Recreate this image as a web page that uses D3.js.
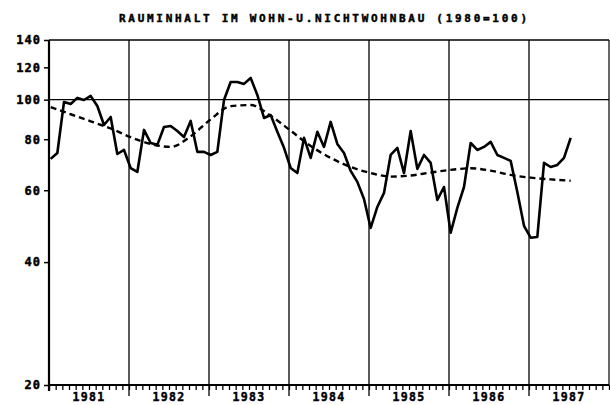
<!DOCTYPE html>
<html><head><meta charset="utf-8">
<script src="https://cdn.jsdelivr.net/npm/d3@7"></script>
<style>body{margin:0;background:#fff}svg{display:block}</style>
</head><body><svg id="c" width="610" height="405"></svg>
<script>
// ---- data ----
const title = "RAUMINHALT IM WOHN-U.NICHTWOHNBAU (1980=100)";
const years = [1981, 1982, 1983, 1984, 1985, 1986, 1987];
const yTicks = [20, 40, 60, 80, 100, 120, 140];
// monthly index, Jan 1981 = 0
const months = d3.range(0, 79);
const values = [
  71.6, 74.0, 98.7, 97.6, 101.0, 99.8, 102.1, 96.5, 86.7, 90.7, 73.6, 75.3,
  68.0, 66.5, 84.3, 78.3, 77.5, 85.7, 86.2, 83.8, 81.0, 88.7, 74.5, 74.5,
  73.2, 74.5, 99.8, 110.5, 110.5, 109.3, 113.0, 102.7, 90.2, 91.7, 83.4, 76.2,
  68.0, 66.1, 80.6, 72.0, 83.4, 76.6, 88.2, 77.9, 74.0, 66.9, 62.9, 57.1,
  48.5, 54.6, 59.1, 73.2, 76.2, 66.1, 83.8, 67.7, 73.2, 70.0, 56.8, 61.1,
  47.2, 54.3, 61.1, 78.3, 75.3, 76.6, 78.8, 73.2, 72.0, 70.8, 59.4, 49.1,
  45.9, 46.1, 70.0, 68.4, 69.2, 72.0, 80.6
];
const trendMonths = [0,3,6,9,12,15,18,21,24,27,30,33,36,39,42,45,48,51,54,57,60,63,66,69,72,75,78];
const trendValues = [95.9, 92.1, 88.5, 85.0, 80.9, 77.9, 76.6, 81.3, 89.5, 96.4, 97.0, 91.3, 83.9,
  77.0, 72.0, 68.4, 66.1, 64.8, 65.2, 66.3, 67.3, 67.9, 67.0, 65.4, 64.4, 63.8, 63.3];
const refLine = 100;

// ---- layout ----
const L = 49, R = 609, T = 40, B = 385;
const svg = d3.select("#c");
const font = "'DejaVu Sans Mono', monospace";

const x = d3.scaleLinear().domain([0, years.length * 12]).range([L, R]);
const y = d3.scaleLog().domain([20, 140]).range([B, T]);
const off = 0.25;

// title
svg.append("text").attr("x", 323).attr("y", 22).attr("text-anchor", "middle")
  .attr("font-family", font).attr("font-weight", "bold").attr("font-size", 11)
  .attr("stroke", "#000").attr("stroke-width", 0.45)
  .attr("textLength", 408).attr("lengthAdjust", "spacing")
  .text(title);

// frame top and right
svg.append("line").attr("x1", L).attr("x2", R).attr("y1", T).attr("y2", T)
  .attr("stroke", "#000").attr("stroke-width", 1.3);
svg.append("line").attr("x1", R).attr("x2", R).attr("y1", T).attr("y2", B)
  .attr("stroke", "#000").attr("stroke-width", 1.2);

// year boundary lines
svg.append("g").selectAll("line").data(d3.range(1, years.length)).join("line")
  .attr("x1", d => x(d * 12)).attr("x2", d => x(d * 12))
  .attr("y1", T).attr("y2", B + 11)
  .attr("stroke", "#000").attr("stroke-width", 1.3);

// reference line at 100
svg.append("line").attr("x1", L).attr("x2", R).attr("y1", y(refLine)).attr("y2", y(refLine))
  .attr("stroke", "#000").attr("stroke-width", 1.4);

// x axis with month ticks
const xAxis = d3.axisBottom(x).tickValues(d3.range(0, years.length * 12 + 1))
  .tickSize(5).tickFormat("");
const gx = svg.append("g").attr("transform", `translate(0,${B})`).call(xAxis);
gx.select(".domain").attr("stroke-width", 2).attr("d", `M${L},0H${R}`);
gx.selectAll(".tick line").attr("stroke-width", 1.3);

// year labels
svg.append("g").selectAll("text").data(years).join("text")
  .attr("x", (d, i) => x(i * 12 + 6)).attr("y", 401).attr("text-anchor", "middle")
  .attr("font-family", font).attr("font-weight", "bold").attr("font-size", 11.5)
  .attr("stroke", "#000").attr("stroke-width", 0.45)
  .attr("letter-spacing", 1.3)
  .text(d => d);

// y axis
const yAxis = d3.axisLeft(y).tickValues(yTicks).tickSize(5).tickPadding(3).tickFormat(d3.format("d"));
const gy = svg.append("g").attr("transform", `translate(${L},0)`).call(yAxis);
gy.select(".domain").attr("stroke-width", 2.2).attr("d", `M0,${T}V${B + 6}`);
gy.selectAll(".tick line").attr("stroke-width", 1.5);
gy.selectAll(".tick text").attr("font-family", font).attr("font-weight", "bold")
  .attr("font-size", 12).attr("letter-spacing", 1).attr("fill", "#000")
  .attr("stroke", "#000").attr("stroke-width", 0.45);

// trend (dashed)
const trendData = trendMonths.map((m, i) => ({m, v: trendValues[i]}));
svg.append("path").datum(trendData)
  .attr("fill", "none").attr("stroke", "#000").attr("stroke-width", 2.4)
  .attr("stroke-dasharray", "6,4")
  .attr("d", d3.line().curve(d3.curveMonotoneX).x(d => x(d.m + off)).y(d => y(d.v)));

// monthly series (solid)
const data = months.map((m, i) => ({m, v: values[i]}));
svg.append("path").datum(data)
  .attr("fill", "none").attr("stroke", "#000").attr("stroke-width", 2.6)
  .attr("stroke-linejoin", "round")
  .attr("d", d3.line().x(d => x(d.m + off)).y(d => y(d.v)));
</script>
</body></html>
